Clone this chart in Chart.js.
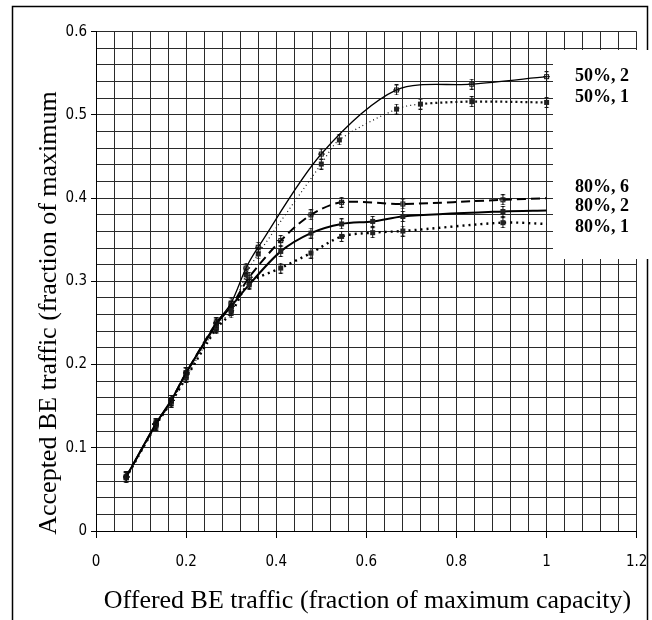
<!DOCTYPE html>
<html>
<head>
<meta charset="utf-8">
<script src="https://cdn.jsdelivr.net/npm/chart.js@4/dist/chart.umd.min.js"></script>
<style>
    html, body { margin: 0; padding: 0; background: #fff; }
    #contenedor { position: relative; width: 652px; height: 620px; }
</style>
</head>
<body>
<div id="contenedor"><canvas id="grafica"></canvas></div>
<script>
const etiquetas = ["50%, 2", "50%, 1", "80%, 6", "80%, 2", "80%, 1"];

const x50_2 = [0.067, 0.133, 0.167, 0.2, 0.267, 0.3, 0.333, 0.36, 0.5, 0.667, 0.834, 1.0];
const y50_2 = [0.065, 0.129, 0.157, 0.19, 0.25, 0.274, 0.316, 0.341, 0.453, 0.53, 0.537, 0.546];

const x50_1 = [0.067, 0.133, 0.167, 0.2, 0.267, 0.3, 0.333, 0.36, 0.5, 0.54, 0.667, 0.72, 0.834, 1.0];
const y50_1 = [0.064, 0.127, 0.155, 0.185, 0.245, 0.265, 0.308, 0.333, 0.441, 0.47, 0.507, 0.513, 0.516, 0.515];

const x80_6 = [0.067, 0.133, 0.167, 0.2, 0.267, 0.3, 0.34, 0.41, 0.477, 0.545, 0.681, 0.903, 1.0];
const y80_6 = [0.065, 0.128, 0.157, 0.19, 0.25, 0.27, 0.305, 0.349, 0.38, 0.395, 0.393, 0.398, 0.4];

const x80_2 = [0.067, 0.133, 0.167, 0.2, 0.267, 0.3, 0.34, 0.41, 0.477, 0.545, 0.614, 0.681, 0.903, 1.0];
const y80_2 = [0.065, 0.129, 0.157, 0.19, 0.248, 0.27, 0.296, 0.336, 0.358, 0.369, 0.372, 0.378, 0.384, 0.385];

const x80_1 = [0.067, 0.133, 0.167, 0.2, 0.267, 0.3, 0.34, 0.41, 0.477, 0.545, 0.614, 0.681, 0.903, 1.0];
const y80_1 = [0.064, 0.127, 0.155, 0.184, 0.243, 0.262, 0.298, 0.316, 0.334, 0.354, 0.3585, 0.3605, 0.3705, 0.369];

const ticksX = [0, 0.2, 0.4, 0.6, 0.8, 1, 1.2];
const ticksY = [0, 0.1, 0.2, 0.3, 0.4, 0.5, 0.6];

const tituloX = "Offered BE traffic (fraction of maximum capacity)";
const tituloY = "Accepted BE traffic (fraction of maximum";

function puntos(xs, ys) {
    return xs.map((x, i) => ({ x: x, y: ys[i] }));
}

// marcador con barra de error
function marcador(relleno) {
    const c = document.createElement("canvas");
    c.width = 7;
    c.height = 11;
    const g = c.getContext("2d");
    g.strokeStyle = "#111";
    g.lineWidth = 1;
    g.beginPath();
    g.moveTo(3.5, 0.5); g.lineTo(3.5, 10.5);
    g.moveTo(1.5, 0.5); g.lineTo(5.5, 0.5);
    g.moveTo(1.5, 10.5); g.lineTo(5.5, 10.5);
    g.stroke();
    if (relleno) {
        g.fillStyle = "#222";
        g.fillRect(1, 3, 5, 5);
    } else {
        g.strokeRect(1.5, 3.5, 4, 4);
        g.beginPath();
        g.moveTo(0, 5.5); g.lineTo(7, 5.5);
        g.stroke();
    }
    return c;
}

const lleno = marcador(true);
const hueco = marcador(false);

const esTickX = (v) => ticksX.some((t) => Math.abs(t - v) < 1e-6);
const esTickY = (v) => ticksY.some((t) => Math.abs(t - v) < 1e-6);

const adornos = {
    id: "adornos",
    afterDraw(chart) {
        const ctx = chart.ctx;
        ctx.save();

        // marco exterior
        ctx.strokeStyle = "#000";
        ctx.lineWidth = 1.5;
        ctx.strokeRect(12.5, 6.5, 635, 700);

        // caja de etiquetas
        ctx.fillStyle = "#fff";
        ctx.fillRect(553, 50, 99, 209);
        ctx.fillStyle = "#000";
        ctx.font = "bold 18px 'Liberation Serif', 'Times New Roman', serif";
        ctx.textBaseline = "middle";
        ctx.textAlign = "left";
        const posY = [76, 97, 187, 206, 227];
        etiquetas.forEach((t, i) => ctx.fillText(t, 575, posY[i]));

        // títulos de los ejes
        ctx.font = "26px 'Liberation Serif', 'Times New Roman', serif";
        ctx.textAlign = "center";
        ctx.fillText(tituloX, 367.5, 601);
        ctx.translate(49, 313);
        ctx.rotate(-Math.PI / 2);
        ctx.fillText(tituloY, 0, 0);
        ctx.restore();
    },
};

const fuenteTicks = { family: "'Liberation Sans Narrow', 'Arial Narrow', 'DejaVu Sans Condensed', sans-serif", size: 15 };

const ctx = document.getElementById("grafica");
const grafica = new Chart(ctx, {
    type: "scatter",
    data: {
        datasets: [
            {
                label: etiquetas[0],
                data: puntos(x50_2, y50_2),
                showLine: true,
                borderColor: "#000",
                borderWidth: 1.3,
                pointStyle: hueco,
            },
            {
                label: etiquetas[1],
                data: puntos(x50_1, y50_1),
                showLine: true,
                borderColor: "#111",
                borderWidth: 1.2,
                borderDash: [1, 3],
                segment: {
                    borderWidth: (c) => (c.p0.parsed.x > 0.7 ? 2.2 : 1.2),
                    borderDash: (c) => (c.p0.parsed.x > 0.7 ? [2, 3] : [1, 3]),
                },
                pointStyle: lleno,
            },
            {
                label: etiquetas[2],
                data: puntos(x80_6, y80_6),
                showLine: true,
                borderColor: "#000",
                borderWidth: 2,
                borderDash: [9, 5],
                pointStyle: hueco,
                pointRadius: x80_6.map((x) => (x < 1 ? 3 : 0)),
            },
            {
                label: etiquetas[3],
                data: puntos(x80_2, y80_2),
                showLine: true,
                borderColor: "#000",
                borderWidth: 2,
                pointStyle: lleno,
                pointRadius: x80_2.map((x) => (x < 1 ? 3 : 0)),
            },
            {
                label: etiquetas[4],
                data: puntos(x80_1, y80_1),
                showLine: true,
                borderColor: "#000",
                borderWidth: 2.4,
                borderDash: [2, 4],
                pointStyle: lleno,
                pointRadius: x80_1.map((x) => (x < 1 ? 3 : 0)),
            },
        ],
    },
    options: {
        responsive: true,
        maintainAspectRatio: false,
        animation: false,
        events: [],
        layout: { padding: { left: 0, right: 15.3, top: 31.7, bottom: 0 } },
        elements: {
            line: { tension: 0.3, fill: false },
            point: { radius: 3, backgroundColor: "#000", borderColor: "#000" },
        },
        plugins: {
            legend: { display: false },
            tooltip: { enabled: false },
        },
        scales: {
            x: {
                type: "linear",
                min: 0,
                max: 1.2,
                afterFit: (scale) => {
                    scale.height = 89;
                    scale.paddingLeft = 0;
                    scale.paddingRight = 0;
                },
                ticks: {
                    stepSize: 0.04,
                    autoSkip: false,
                    maxRotation: 0,
                    padding: 15,
                    color: "#000",
                    font: fuenteTicks,
                    callback: (v) => (esTickX(v) ? String(Math.round(v * 10) / 10) : ""),
                },
                grid: {
                    color: "#2a2a2a",
                    lineWidth: 1,
                    tickLength: 7,
                    tickColor: (c) => (c.tick && esTickX(c.tick.value) ? "#000" : "rgba(0,0,0,0)"),
                },
                border: { color: "#000", width: 1 },
            },
            y: {
                type: "linear",
                min: 0,
                max: 0.6,
                afterFit: (scale) => {
                    scale.width = 96;
                    scale.paddingTop = 0;
                    scale.paddingBottom = 0;
                },
                ticks: {
                    stepSize: 0.02,
                    autoSkip: false,
                    padding: 4,
                    color: "#000",
                    font: fuenteTicks,
                    callback: (v) => (esTickY(v) ? String(Math.round(v * 10) / 10) : ""),
                },
                grid: {
                    color: "#2a2a2a",
                    lineWidth: 1,
                    tickLength: 5,
                    tickColor: (c) => (c.tick && esTickY(c.tick.value) ? "#000" : "rgba(0,0,0,0)"),
                },
                border: { color: "#000", width: 1 },
            },
        },
    },
    plugins: [adornos],
});
</script>
</body>
</html>
